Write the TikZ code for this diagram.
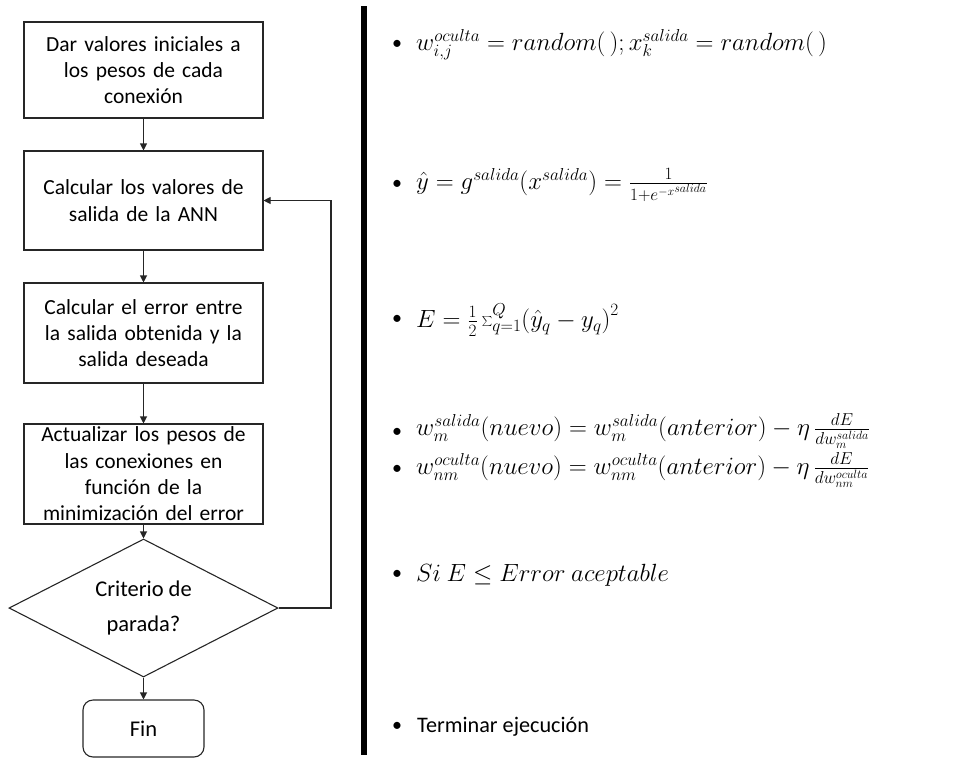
\documentclass[tikz,border=0pt]{standalone}
\usepackage[no-math]{fontspec}
\setmainfont{Carlito}
\usetikzlibrary{shapes.geometric,arrows.meta}

\tikzset{
  flowline/.style={draw=black!85, line width=1.1pt},
  arr/.style={flowline, -{Triangle[length=7pt,width=7pt]}},
  stepbox/.style={flowline, rectangle, minimum width=239pt, inner sep=2pt,
    text width=234pt, align=center, font=\fontsize{21.5}{26.3}\selectfont},
  decision/.style={flowline, diamond, aspect=1.95, minimum width=269pt,
    minimum height=138pt, inner sep=0pt, align=center,
    font=\fontsize{22.5}{35}\selectfont},
  endbox/.style={flowline, rectangle, rounded corners=10pt, minimum width=121pt,
    minimum height=57pt, font=\fontsize{22.5}{26}\selectfont},
  bullet/.style={font=\fontsize{20}{22}\selectfont, inner sep=0pt},
  formula/.style={anchor=west, inner sep=0pt, font=\fontsize{25.5}{30}\selectfont},
}

\begin{document}
\begin{tikzpicture}[x=1pt, y=-1pt]
  \useasboundingbox (0,0) rectangle (961,758);

  % flowchart
  \node[stepbox, minimum height=96pt] (init) at (143.5,70)
    {Dar valores iniciales a\\los pesos de cada\\conexión};
  \node[stepbox, minimum height=99pt] (fwd) at (143.5,200.5)
    {Calcular los valores de\\salida de la ANN};
  \node[stepbox, minimum height=100pt] (err) at (143.5,333)
    {Calcular el error entre\\la salida obtenida y la\\salida deseada};
  \node[stepbox, minimum height=100pt] (upd) at (143.5,474)
    {Actualizar los pesos de\\las conexiones en\\función de la\\minimización del error};
  \node[decision] (stop) at (143.5,608) {Criterio de\\parada?};
  \node[endbox] (fin) at (143.5,728.5) {Fin};

  \draw[arr] (init) -- (fwd);
  \draw[arr] (fwd) -- (err);
  \draw[arr] (err) -- (upd);
  \draw[arr] (upd) -- (stop);
  \draw[arr] (stop) -- (fin);
  \coordinate (loop) at (331,608);
  \draw[arr] (stop.east) -- (loop) |- (fwd.east);

  % separator
  \fill[black] (361,6) rectangle (367,755);

  % bullet list of formulas
  \foreach \n/\y in {b1/45, b2/185, b3/320, b4/433, b5/470, b6/575, b7/727}
    \node[bullet] (\n) at (397,\y) {•};

  \node[formula] (f1) at (416,45)
    {$w_{i,j}^{oculta} = random(\,); x_k^{salida} = random(\,)$};
  \node[formula] (f2) at (416,185)
    {$\hat{y} = g^{salida}\bigl(x^{salida}\bigr) = \frac{1}{1+e^{-x^{salida}}}$};
  \node[formula] (f3) at (416,320)
    {$E = \frac{1}{2}\sum_{q=1}^{Q}\bigl(\hat{y}_q - y_q\bigr)^2$};
  \node[formula] (f4) at (416,431)
    {$w_m^{salida}(nuevo) = w_m^{salida}(anterior) - \eta\,\frac{dE}{dw_m^{salida}}$};
  \node[formula] (f5) at (416,470)
    {$w_{nm}^{oculta}(nuevo) = w_{nm}^{oculta}(anterior) - \eta\,\frac{dE}{dw_{nm}^{oculta}}$};
  \node[formula] (f6) at (416,575)
    {$Si\ E \le Error\ aceptable$};
  \node[formula, font=\fontsize{22.2}{26}\selectfont] (f7) at (417,727)
    {Terminar ejecución};
\end{tikzpicture}
\end{document}
